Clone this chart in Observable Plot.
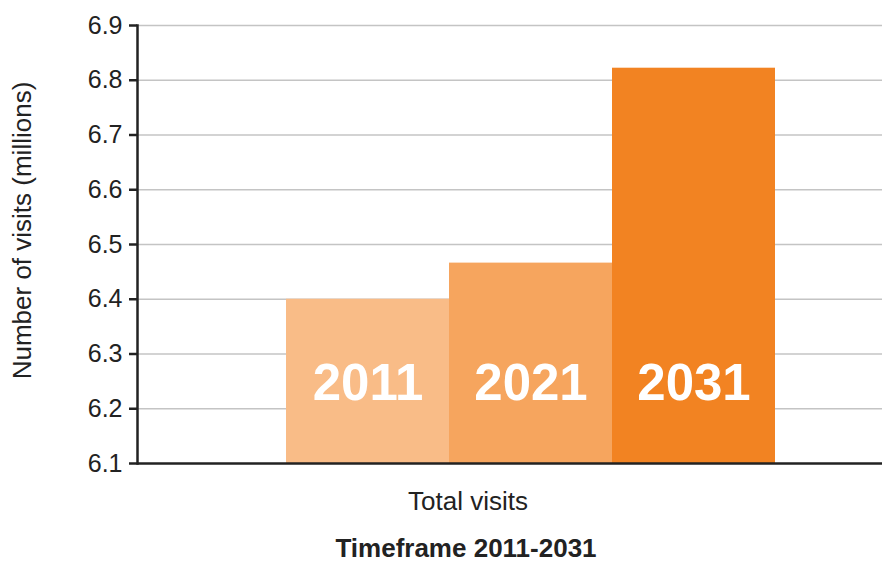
<!DOCTYPE html>
<html>
<head>
<meta charset="utf-8">
<script src="https://cdn.jsdelivr.net/npm/d3@7"></script>
<script src="https://cdn.jsdelivr.net/npm/@observablehq/plot@0.6"></script>
<style>
  html, body { margin: 0; padding: 0; background: #fff; }
  body { width: 882px; height: 562px; overflow: hidden; font-family: "Liberation Sans", Arial, sans-serif; }
</style>
</head>
<body>
<div id="chart"></div>
<script>
const years = ["2011", "2021", "2031"];
const visits = [6.40, 6.466, 6.822];
const colors = ["#F9BC87", "#F6A55E", "#F28322"];
const yTicks = [6.1, 6.2, 6.3, 6.4, 6.5, 6.6, 6.7, 6.8, 6.9];
const yDomain = [6.1, 6.9];
const yTitle = "Number of visits (millions)";
const xTitle = "Total visits";
const caption = "Timeframe 2011-2031";

const data = years.map((y, i) => ({year: y, value: visits[i], color: colors[i]}));

const plot = Plot.plot({
  width: 882,
  height: 562,
  marginLeft: 137,
  marginRight: 0,
  marginTop: 25,
  marginBottom: 99,
  style: {fontFamily: "Liberation Sans, Arial, sans-serif", background: "#fff", fontSize: "25px", color: "#222"},
  x: {domain: years, padding: 0, insetLeft: 148, insetRight: 107, axis: null},
  y: {domain: yDomain, ticks: yTicks, axis: null},
  marks: [
    Plot.ruleY(yTicks.slice(1), {stroke: "#c4c4c4", strokeWidth: 1.5}),
    Plot.barY(data, {x: "year", y1: () => yDomain[0], y2: "value", fill: "color"}),
    Plot.text(data, {x: "year", text: "year", frameAnchor: "bottom", dy: -80, fill: "#fff",
      fontSize: 51, fontWeight: "bold", lineAnchor: "middle", letterSpacing: "-3.5px"}),
    Plot.ruleY([yDomain[0]], {stroke: "#222", strokeWidth: 2.5}),
    Plot.frame({anchor: "left", stroke: "#222", strokeWidth: 2.5}),
    Plot.axisY({ticks: yTicks, tickSize: 8, tickPadding: 7, tickFormat: d3.format(".1f"),
      fontSize: 25, color: "#222", stroke: "#222", strokeWidth: 2.5, label: null}),
    Plot.text([yTitle], {frameAnchor: "left", rotate: -90, textAnchor: "middle", lineAnchor: "middle",
      dx: -115, dy: -14, fontSize: 26, fill: "#222"}),
    Plot.text([xTitle], {frameAnchor: "bottom", dx: -42, dy: 38, fontSize: 26, fill: "#222", lineAnchor: "middle"}),
    Plot.text([caption], {frameAnchor: "bottom", dx: -44, dy: 85, fontSize: 26, fontWeight: "bold", fill: "#222", lineAnchor: "middle"})
  ]
});
document.getElementById("chart").appendChild(plot);
</script>
</body>
</html>
